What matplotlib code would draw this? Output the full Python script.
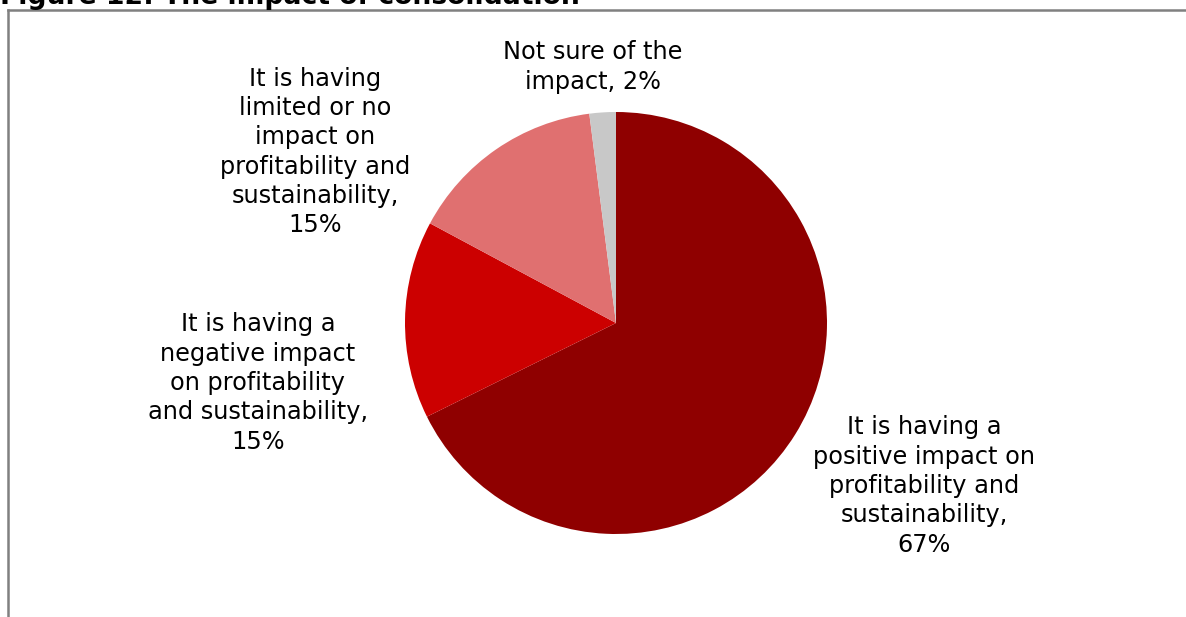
import matplotlib.pyplot as plt
from matplotlib.lines import Line2D

# --- Survey responses ---
categories = [
    "It is having a\npositive impact on\nprofitability and\nsustainability",
    "It is having a\nnegative impact\non profitability\nand sustainability",
    "It is having\nlimited or no\nimpact on\nprofitability and\nsustainability",
    "Not sure of the\nimpact",
]
shares = [67, 15, 15, 2]
label_breaks = ["\n", "\n", "\n", " "]
colors = ["#8f0000", "#cc0000", "#e07070", "#c8c8c8"]

# label centres in pie units (radius = 1)
label_pos = [(1.46, -0.773), (-1.697, -0.284), (-1.427, 0.810), (-0.109, 1.213)]

W, H = 1186, 617
fig = plt.figure(figsize=(W / 100, H / 100), dpi=100)
fig.patch.set_facecolor("white")

# pie axes: centre (616, 323) px, radius 211 px
cx, cy, r = 616, 323, 211
ax = fig.add_axes([(cx - r) / W, (H - cy - r) / H, 2 * r / W, 2 * r / H])
ax.pie(
    shares,
    colors=colors,
    startangle=90,
    counterclock=False,
    radius=1.0,
    wedgeprops=dict(linewidth=0),
)
ax.set_xlim(-1, 1)
ax.set_ylim(-1, 1)
ax.set_aspect("equal")
ax.axis("off")

for cat, v, sep, (lx, ly) in zip(categories, shares, label_breaks, label_pos):
    ax.text(lx, ly, f"{cat},{sep}{v}%", ha="center", va="center",
            fontsize=17.3, linespacing=1.28, color="black",
            family="DejaVu Sans", clip_on=False)

# --- Title (partly cut off at the top) and frame ---
fig.text(0.0, 1 - 3.5 / H, "Figure 12: The impact of consolidation",
         ha="left", va="baseline", fontsize=19.2, fontweight="bold")
frame_color = "#808080"
fig.add_artist(Line2D([8 / W, 1.0], [1 - 10 / H, 1 - 10 / H],
                      color=frame_color, linewidth=1.8))
fig.add_artist(Line2D([8 / W, 8 / W], [0.0, 1 - 10 / H],
                      color=frame_color, linewidth=1.8))

plt.savefig("out.png", dpi=100)
